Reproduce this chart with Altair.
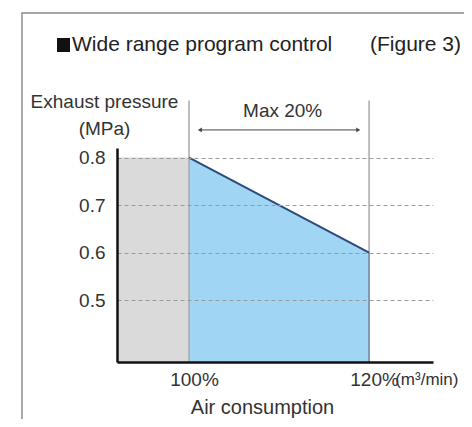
import altair as alt
import pandas as pd

# ---- data ----
flow_pct = [100, 120]            # air consumption (%)
pressure = [0.8, 0.6]            # exhaust pressure (MPa)
base_x = [92, 100]               # grey (standard) region
base_top = 0.8
y_ticks = [0.5, 0.6, 0.7, 0.8]
x_ticks = [100, 120]
Y_MIN, Y_MAX = 0.37, 0.82
X_MIN, X_MAX = 92, 127.1

FONT = "Liberation Sans"
TXT = "#333333"

xs = alt.Scale(domain=[X_MIN, X_MAX], nice=False, zero=False)
ys = alt.Scale(domain=[Y_MIN, Y_MAX], nice=False, zero=False)

x_axis = alt.Axis(values=x_ticks, labelExpr="datum.value + '%'", ticks=False, grid=False,
                  domainColor="#111111", domainWidth=2.5, labelFont=FONT, labelFontSize=19,
                  labelColor=TXT, labelPadding=8, labelOffset=5, labelFlush=False,
                  title="Air consumption", titleFont=FONT, titleFontSize=20, titleFontWeight="normal",
                  titleColor=TXT, titleX=145, titleY=51, titleAlign="center",
                  titleBaseline="alphabetic", zindex=1)
y_axis = alt.Axis(values=y_ticks, format=".1f", ticks=False, grid=True, gridDash=[4, 3],
                  gridColor="#9a9a9a", gridWidth=1, domainColor="#111111", domainWidth=2.5,
                  labelFont=FONT, labelFontSize=19, labelColor=TXT, labelPadding=12,
                  title=["Exhaust pressure", "(MPa)"], titleAngle=0, titleFont=FONT,
                  titleFontSize=19, titleFontWeight="normal", titleColor=TXT,
                  titleX=-13, titleY=-41, titleAlign="center", titleBaseline="alphabetic",
                  titleLineHeight=27, zindex=1)


def X(field="x"):
    return alt.X(f"{field}:Q", scale=xs, axis=x_axis)


def Y(field="y"):
    return alt.Y(f"{field}:Q", scale=ys, axis=y_axis)


line_df = pd.DataFrame({"x": flow_pct, "y": pressure})
grey_df = pd.DataFrame({"x": [base_x[0]], "x2": [base_x[1]], "y": [base_top]})

grey = alt.Chart(grey_df).mark_rect(color="#dadada").encode(
    x=X(), x2="x2:Q", y=Y(), y2=alt.datum(Y_MIN))

blue = alt.Chart(line_df).mark_area(color="#a0d5f3").encode(
    x=X(), y=Y(), y2=alt.datum(Y_MIN))

# vertical guide lines at 100% and 120%
vlines_df = pd.DataFrame({"x": flow_pct, "y": [Y_MIN, Y_MIN], "y2": [0.92, 0.92]})
vlines = alt.Chart(vlines_df).mark_rule(color="#a9a9a9", strokeWidth=1.5).encode(
    x=X(), y=Y(), y2="y2:Q")
edge_df = pd.DataFrame({"x": [flow_pct[1]], "y": [Y_MIN], "y2": [pressure[1]]})
edge = alt.Chart(edge_df).mark_rule(color="#6f8fb8", strokeWidth=1.5).encode(
    x=X(), y=Y(), y2="y2:Q")

line = alt.Chart(line_df).mark_line(color="#2d4a7c", strokeWidth=2).encode(x=X(), y=Y())

# "Max 20%" arrow
arrow_df = pd.DataFrame({"x": [101.2], "x2": [118.8], "y": [0.858]})
arrow = alt.Chart(arrow_df).mark_rule(color="#444444", strokeWidth=1).encode(
    x=X(), x2="x2:Q", y=Y())
heads_df = pd.DataFrame({"x": [101.2, 118.8], "y": [0.858, 0.858],
                         "shape": ["triangle-left", "triangle-right"]})
heads = alt.Chart(heads_df).mark_point(filled=True, color="#444444", size=22, opacity=1).encode(
    x=X(), y=Y(), shape=alt.Shape("shape:N", scale=None, legend=None))
max_df = pd.DataFrame({"x": [110.4], "y": [0.885], "t": ["Max 20%"]})
max_txt = alt.Chart(max_df).mark_text(font=FONT, fontSize=19, color=TXT, align="center",
                                      baseline="alphabetic").encode(
    x=X(), y=Y(), text="t:N")

unit = alt.Chart(pd.DataFrame({"x": [122.9], "t": ["(m³/min)"]})).mark_text(
    font=FONT, fontSize=17, color=TXT, align="left", baseline="top").encode(
    x=X(), y=alt.value(224), text="t:N")

# heading texts and frame
bullet = alt.Chart(pd.DataFrame({"a": [0]})).mark_rect(color="#111111").encode(
    x=alt.value(-60), x2=alt.value(-47), y=alt.value(-110), y2=alt.value(-96))
title_txt = alt.Chart(pd.DataFrame({"t": ["Wide range program control"]})).mark_text(
    font=FONT, fontSize=21, color="#222222", align="left", baseline="alphabetic").encode(
    x=alt.value(-45), y=alt.value(-97), text="t:N")
fig_txt = alt.Chart(pd.DataFrame({"t": ["(Figure 3)"]})).mark_text(
    font=FONT, fontSize=21, color="#222222", align="left", baseline="alphabetic").encode(
    x=alt.value(253), y=alt.value(-97), text="t:N")

frame = alt.Chart(pd.DataFrame({"a": [0]})).mark_rect(
    fill=None, stroke="#8c8c8c", strokeWidth=1.5).encode(
    x=alt.value(-95), x2=alt.value(600), y=alt.value(-135), y2=alt.value(600))

chart = alt.layer(
    grey, blue, vlines, edge, line, arrow, heads, max_txt, unit,
    bullet, title_txt, fig_txt, frame
).properties(
    width=316, height=214,
    autosize=alt.AutoSizeParams(type="none"),
    padding={"left": 109, "top": 140, "right": 31, "bottom": 57},
    background="white",
).configure_view(strokeWidth=0)

chart.save("out.html", embed_options={"renderer": "svg", "actions": False})
